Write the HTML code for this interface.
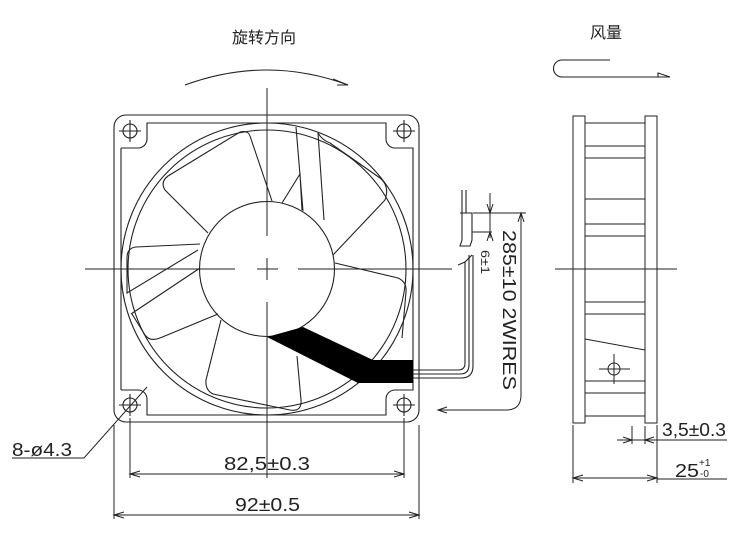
<!DOCTYPE html>
<html><head><meta charset="utf-8"><style>
html,body{margin:0;padding:0;background:#fff}
svg{display:block}
text{font-family:"Liberation Sans","Noto Sans CJK SC",sans-serif;fill:#222}
</style></head><body>
<svg width="736" height="538" viewBox="0 0 736 538" xmlns="http://www.w3.org/2000/svg">
<text x="232" y="43" font-size="16">旋转方向</text>
<text x="590" y="38" font-size="16">风量</text>
<g fill="none" stroke="#222" stroke-width="1.1">
<path d="M185 85 Q267 55 348 85"/>
<path d="M333 79 L348 85 L337 85"/>
<path d="M610 60 L562 60 A8.5 8.5 0 0 0 562 77 L670 77"/>
<path d="M658 73 L670 77 L658 77 Z"/>
<rect x="114" y="115" width="305" height="307" rx="12"/>
<path d="M121 148 L121 390 M121 390 L138 390 A9 9 0 0 1 147 399 L147 415 L386 415 L386 399 A9 9 0 0 1 395 390 L413 390 L413 148 L395 148 A9 9 0 0 1 386 139 L386 123 L147 123 L147 139 A9 9 0 0 1 138 148 L121 148"/>
<g>
<circle cx="130" cy="131" r="7"/><circle cx="404" cy="131" r="7"/>
<circle cx="130" cy="405" r="7"/><circle cx="404" cy="405" r="7"/>
<path d="M119 131 H141 M130 120 V142 M393 131 H415 M404 120 V142 M119 405 H141 M130 394 V416 M393 405 H415 M404 394 V416"/>
</g>
<circle cx="267" cy="269" r="146"/>
<circle cx="267" cy="269" r="139"/>
<circle cx="267" cy="269" r="67.5"/>
<path d="M208 233 L165 190 Q160 182 168 176 L240 132 Q248 130 250 136 L272 201"/>
<path d="M282 203 L300 174 L302 210 M296 127 L303 211 M318 133 L324 220"/>
<path d="M318 133 Q322 140 330 143 L380 178 Q390 186 385 200 L333 255"/>
<path d="M200 244 L136 247 Q127 248 127 258 L127 293 L198 250"/>
<path d="M200 268 L131 314"/>
<path d="M218 314 L160 338 Q150 342 145 335 L132 314"/>
<path d="M335 263 L398 278 Q407 282 406 292 L402 338"/>
<path d="M221 320 L206 380 Q205 390 213 394 L290 410 Q302 412 301 400 L297 356"/>
<path d="M413 370 H458 Q465 370 465 363 V262 L472 255"/>
<path d="M413 374 H460 Q469 374 469 365 V255"/>
<path d="M413 378 H461 Q473 378 473 366 V255 M458 265 L465 262"/>
<path d="M462 190 V213 M466 190 V213"/>
<path d="M460 213 H472 V240 L470 246 H460 L462 240 V213"/>
</g>
<polygon points="267,337 303,327 373,360 413,360 413,383 358,383" fill="#000"/>
<g fill="none" stroke="#222" stroke-width="1">
<path d="M85 269 H235 M257 269 H278 M298 269 H452"/>
<path d="M267 88 V236 M267 258 V280 M267 302 V478"/>
<path d="M473 213 H526 M521 213 V395 Q521 410 506 410 H438"/>
<path d="M518 222 L521 213 L524 222"/>
<path d="M447 407 L438 410 L447 413"/>
<path d="M490 193 V238 M472 232 H492"/>
<path d="M487 204 L490 213 L493 204 M487 241 L490 232 L493 241"/>
<path d="M130 418 V478 M404 418 V478 M114 425 V519 M419 425 V519"/>
<path d="M130 474 H404 M114 515 H419"/>
<path d="M140 471 L130 474 L140 477 M394 471 L404 474 L394 477 M124 512 L114 515 L124 518 M409 512 L419 515 L409 518"/>
<path d="M12 458 H84 L147 387"/>
<rect x="573" y="116" width="12" height="307"/>
<rect x="645" y="116" width="12" height="307"/>
<rect x="585" y="123" width="60" height="101"/>
<path d="M585 146 H645 M585 158 H645 M585 199 H645"/>
<rect x="585" y="236" width="60" height="66"/>
<rect x="585" y="314" width="60" height="102"/>
<path d="M585 339 L645 350 M585 381 H645 M585 393 H645"/>
<circle cx="614" cy="369" r="6"/>
<path d="M599 369 H630 M614 354 V384"/>
<path d="M555 269 H677"/>
<path d="M573 425 V483 M657 425 V483 M573 478 H657 M657 479 H727"/>
<path d="M583 475 L573 478 L583 481 M647 475 L657 478 L647 481"/>
<path d="M632 426 V444 M645 426 V444 M617 440 H660 M657 440 H727"/>
<path d="M623 437 L632 440 L623 443 M654 437 L645 440 L654 443"/>
</g>
<g font-size="18" fill="#222">
<text x="224" y="470" textLength="86" lengthAdjust="spacingAndGlyphs">82,5±0.3</text>
<text x="235" y="511" textLength="65" lengthAdjust="spacingAndGlyphs">92±0.5</text>
<text x="12" y="456" textLength="60" lengthAdjust="spacingAndGlyphs">8-ø4.3</text>
<text x="662" y="436" textLength="64" lengthAdjust="spacingAndGlyphs">3,5±0.3</text>
<text x="675" y="477" textLength="24" lengthAdjust="spacingAndGlyphs">25</text>
<text x="699" y="466" font-size="10">+1</text>
<text x="700" y="477" font-size="10">-0</text>
<text transform="translate(503,230) rotate(90)" textLength="160" lengthAdjust="spacingAndGlyphs">285±10 2WIRES</text>
<text transform="translate(481,250) rotate(90)" font-size="12" textLength="24" lengthAdjust="spacingAndGlyphs">6±1</text>
</g>
</svg>
</body></html>
